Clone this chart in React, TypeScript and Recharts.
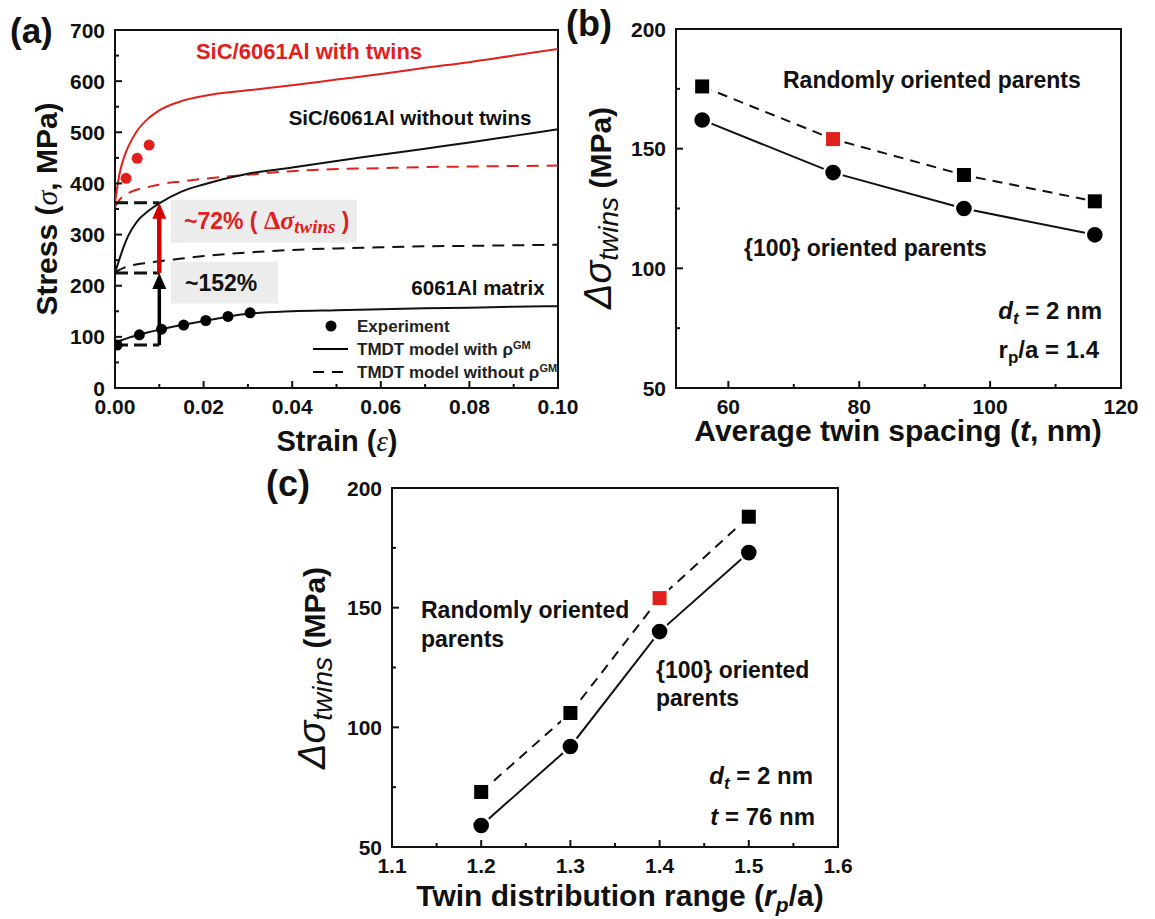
import React from 'react';
import { ComposedChart, Line, Scatter, XAxis, YAxis, ReferenceArea, ReferenceLine } from 'recharts';

const RED = '#e0201c';
const INK = '#111';
const FONT = 'Arial, "Liberation Sans", Helvetica, sans-serif';
const SERIF = '"Liberation Serif", "DejaVu Serif", serif';

// ---- (a) stress-strain curves (MPa vs strain) ----
const strainGrid = [0, 0.001, 0.002, 0.003, 0.005, 0.0075, 0.01, 0.015, 0.02, 0.03, 0.04, 0.05, 0.06, 0.07, 0.08, 0.09, 0.1];
const withTwinsGM = [362, 418, 450, 472, 503, 527, 543, 561, 571, 582, 592, 603, 614, 626, 637, 650, 663];
const withTwinsNoGM = [354, 368, 376, 381, 388, 393, 398, 404, 409, 417, 424, 428, 430, 432, 433, 434, 435];
const noTwinsGM = [225, 252, 277, 298, 326, 346, 361, 384, 398, 419, 431, 444, 456, 468, 480, 493, 506];
const noTwinsNoGM = [225, 231, 235, 238, 242, 245, 248, 253, 258, 265, 270, 273, 275, 277, 278, 279, 280];
const matrixGM = [89, 92, 95, 98, 103, 109, 114, 123, 131, 145, 150, 152, 154, 156, 157, 159, 160];

const matrixExpStrain = [0.0005, 0.0055, 0.0105, 0.0155, 0.0205, 0.0255, 0.0305];
const matrixExpStress = [84, 104, 115, 123, 132, 140, 147];
const twinsExpStrain = [0.0025, 0.005, 0.0077];
const twinsExpStress = [410, 449, 475];

// yield markers used by the arrows
const yieldStrain = 0.01;
const yieldWithTwins = 362;
const yieldNoTwins = 225;
const yieldMatrix = 84;

const strainTicks = [0, 0.01, 0.02, 0.03, 0.04, 0.05, 0.06, 0.07, 0.08, 0.09, 0.1];
const strainLabels = [0, 0.02, 0.04, 0.06, 0.08, 0.1];
const stressTicks = [0, 50, 100, 150, 200, 250, 300, 350, 400, 450, 500, 550, 600, 650, 700];
const stressLabels = [0, 100, 200, 300, 400, 500, 600, 700];

// ---- (b) twin spacing ----
const twinSpacing = [56, 76, 96, 116];
const randomB = [176, 154, 139, 128];
const oriented100B = [162, 140, 125, 114];
const highlightSpacing = 76;
const spacingTicks = [60, 70, 80, 90, 100, 110, 120];
const spacingLabels = [60, 80, 100, 120];

// ---- (c) twin distribution range ----
const rangeRatio = [1.2, 1.3, 1.4, 1.5];
const randomC = [73, 106, 154, 188];
const oriented100C = [59, 92, 140, 173];
const highlightRatio = 1.4;
const ratioTicks = [1.1, 1.15, 1.2, 1.25, 1.3, 1.35, 1.4, 1.45, 1.5, 1.55, 1.6];
const ratioLabels = [1.1, 1.2, 1.3, 1.4, 1.5, 1.6];

const deltaTicks = [50, 75, 100, 125, 150, 175, 200];
const deltaLabels = [50, 100, 150, 200];

const curveRows = strainGrid.map((s, i) => ({
  strain: s,
  withTwinsGM: withTwinsGM[i],
  withTwinsNoGM: withTwinsNoGM[i],
  noTwinsGM: noTwinsGM[i],
  noTwinsNoGM: noTwinsNoGM[i],
  matrixGM: matrixGM[i],
}));
const matrixExp = matrixExpStrain.map((s, i) => ({ strain: s, stress: matrixExpStress[i] }));
const twinsExp = twinsExpStrain.map((s, i) => ({ strain: s, stress: twinsExpStress[i] }));
const rowsB = twinSpacing.map((t, i) => ({ x: t, random: randomB[i], oriented: oriented100B[i] }));
const rowsC = rangeRatio.map((r, i) => ({ x: r, random: randomC[i], oriented: oriented100C[i] }));

const near = (a: number, b: number) => Math.abs(a - b) < 1e-9;

const bottomTick = (labels: number[], fmt: (v: number) => string) => (p: any) => {
  const v = p.payload.value;
  const major = labels.some((l) => near(l, v));
  return (
    <g>
      <line x1={p.x} y1={p.y} x2={p.x} y2={p.y - (major ? 7 : 4)} stroke={INK} strokeWidth={2} />
      {major && (
        <text x={p.x} y={p.y + 26} textAnchor="middle" fontFamily={FONT} fontWeight="bold" fontSize={21} fill={INK}>
          {fmt(v)}
        </text>
      )}
    </g>
  );
};

const leftTick = (labels: number[]) => (p: any) => {
  const v = p.payload.value;
  const major = labels.some((l) => near(l, v));
  return (
    <g>
      <line x1={p.x} y1={p.y} x2={p.x + (major ? 7 : 4)} y2={p.y} stroke={INK} strokeWidth={2} />
      {major && (
        <text x={p.x - 10} y={p.y + 7.5} textAnchor="end" fontFamily={FONT} fontWeight="bold" fontSize={21} fill={INK}>
          {v}
        </text>
      )}
    </g>
  );
};

const arrowShape = (color: string, w: number) => (p: any) => {
  const { x1, y1, x2, y2 } = p;
  const head = 16;
  return (
    <g>
      <line x1={x1} y1={y1} x2={x2} y2={y2 + head - 2} stroke={color} strokeWidth={w} />
      <polygon points={`${x2},${y2} ${x2 - 7},${y2 + head} ${x2 + 7},${y2 + head}`} fill={color} />
    </g>
  );
};

const squareDot = (highlight: number) => (p: any) => (
  <rect
    key={`sq-${p.index}`}
    x={p.cx - 8.2}
    y={p.cy - 8.2}
    width={16.4}
    height={16.4}
    fill={near(p.payload.x, highlight) ? RED : '#000'}
    stroke="#fff"
    strokeWidth={2.4}
  />
);

const circleDot = (p: any) => (
  <circle key={`ci-${p.index}`} cx={p.cx} cy={p.cy} r={9} fill="#000" stroke="#fff" strokeWidth={2.4} />
);

const expDot = (color: string) => (p: any) => <circle cx={p.cx} cy={p.cy} r={5.5} fill={color} />;

type NoteProps = { x: number; y: number; anchor?: 'start' | 'middle' | 'end'; size?: number; color?: string; children: React.ReactNode; weight?: string };
const Note = ({ x, y, anchor = 'start', size = 22, color = INK, weight = 'bold', children }: NoteProps) => {
  const tx = anchor === 'start' ? '0' : anchor === 'middle' ? '-50%' : '-100%';
  return (
    <div
      style={{
        position: 'absolute',
        left: x,
        top: y,
        transform: `translate(${tx}, -50%)`,
        fontFamily: FONT,
        fontWeight: weight as any,
        fontSize: size,
        color,
        lineHeight: 1,
        whiteSpace: 'nowrap',
      }}
    >
      {children}
    </div>
  );
};

const VTitle = ({ x, y, children }: { x: number; y: number; children: React.ReactNode }) => (
  <div
    style={{
      position: 'absolute',
      left: x,
      top: y,
      transform: 'translate(-50%, -50%) rotate(-90deg)',
      fontFamily: FONT,
      fontWeight: 'bold',
      fontSize: 30,
      color: INK,
      lineHeight: 1,
      whiteSpace: 'nowrap',
    }}
  >
    {children}
  </div>
);

const DeltaTitle = () => (
  <>
    <span style={{ fontStyle: 'italic', fontWeight: 'normal', fontSize: 38 }}>Δσ</span>
    <sub style={{ fontStyle: 'italic', fontWeight: 'normal', fontSize: 28, verticalAlign: '-0.25em' }}>twins</sub>
    <span> (MPa)</span>
  </>
);

export default function App() {
  return (
    <div style={{ position: 'absolute', left: 0, top: 0, width: 1155, height: 919, background: '#fff', overflow: 'hidden' }}>
      {/* (a) */}
      <div style={{ position: 'absolute', left: 0, top: 0 }}>
        <ComposedChart width={600} height={460} data={curveRows} margin={{ top: 30, right: 42, bottom: 42, left: 55 }}>
          <XAxis
            dataKey="strain"
            type="number"
            domain={[0, 0.1]}
            ticks={strainTicks}
            interval={0}
            axisLine={false}
            tickLine={false}
            tickSize={0}
            tickMargin={0}
            tick={bottomTick(strainLabels, (v) => v.toFixed(2))}
            allowDataOverflow
          />
          <YAxis
            dataKey="stress"
            type="number"
            domain={[0, 700]}
            ticks={stressTicks}
            interval={0}
            axisLine={false}
            tickLine={false}
            tickSize={0}
            tickMargin={0}
            tick={leftTick(stressLabels)}
            allowDataOverflow
          />
          <ReferenceArea x1={0.0126} x2={0.0546} y1={284} y2={368} fill="#ececec" fillOpacity={1} stroke="none" />
          <ReferenceArea x1={0.0126} x2={0.0368} y1={165} y2={247} fill="#ececec" fillOpacity={1} stroke="none" />
          <Line dataKey="withTwinsGM" type="monotone" stroke={RED} strokeWidth={2} dot={false} activeDot={false} isAnimationActive={false} />
          <Line dataKey="withTwinsNoGM" type="monotone" stroke={RED} strokeWidth={2} strokeDasharray="12 8" dot={false} activeDot={false} isAnimationActive={false} />
          <Line dataKey="noTwinsGM" type="monotone" stroke={INK} strokeWidth={2} dot={false} activeDot={false} isAnimationActive={false} />
          <Line dataKey="noTwinsNoGM" type="monotone" stroke={INK} strokeWidth={2} strokeDasharray="12 8" dot={false} activeDot={false} isAnimationActive={false} />
          <Line dataKey="matrixGM" type="monotone" stroke={INK} strokeWidth={2} dot={false} activeDot={false} isAnimationActive={false} />
          <Scatter data={matrixExp} shape={expDot('#000')} isAnimationActive={false} />
          <Scatter data={twinsExp} shape={expDot(RED)} isAnimationActive={false} />
          <ReferenceLine segment={[{ x: 0, y: yieldWithTwins }, { x: yieldStrain, y: yieldWithTwins }]} stroke={INK} strokeWidth={3} strokeDasharray="13 6" />
          <ReferenceLine segment={[{ x: 0, y: yieldNoTwins }, { x: yieldStrain, y: yieldNoTwins }]} stroke={INK} strokeWidth={3} strokeDasharray="13 6" />
          <ReferenceLine segment={[{ x: 0, y: yieldMatrix }, { x: yieldStrain, y: yieldMatrix }]} stroke={INK} strokeWidth={3} strokeDasharray="13 6" />
          <ReferenceLine segment={[{ x: yieldStrain, y: yieldNoTwins }, { x: yieldStrain, y: yieldWithTwins }]} shape={arrowShape('#d40000', 4.5)} />
          <ReferenceLine segment={[{ x: yieldStrain, y: yieldMatrix }, { x: yieldStrain, y: yieldNoTwins }]} shape={arrowShape('#000', 3.5)} />
          <ReferenceArea x1={0} x2={0.1} y1={0} y2={700} fill="none" stroke={INK} strokeWidth={2} />
        </ComposedChart>
      </div>

      {/* (b) */}
      <div style={{ position: 'absolute', left: 560, top: 0 }}>
        <ComposedChart width={595} height={460} data={rowsB} margin={{ top: 29, right: 34, bottom: 42, left: 56 }}>
          <XAxis dataKey="x" type="number" domain={[52, 120]} ticks={spacingTicks} interval={0} axisLine={false} tickLine={false} tickSize={0} tickMargin={0} tick={bottomTick(spacingLabels, (v) => String(v))} allowDataOverflow />
          <YAxis type="number" domain={[50, 200]} ticks={deltaTicks} interval={0} axisLine={false} tickLine={false} tickSize={0} tickMargin={0} tick={leftTick(deltaLabels)} allowDataOverflow />
          <Line dataKey="random" type="linear" stroke={INK} strokeWidth={2} strokeDasharray="10 7" dot={squareDot(highlightSpacing)} activeDot={false} isAnimationActive={false} />
          <Line dataKey="oriented" type="linear" stroke={INK} strokeWidth={2} dot={circleDot} activeDot={false} isAnimationActive={false} />
          <ReferenceArea x1={52} x2={120} y1={50} y2={200} fill="none" stroke={INK} strokeWidth={2} />
        </ComposedChart>
      </div>

      {/* (c) */}
      <div style={{ position: 'absolute', left: 260, top: 440 }}>
        <ComposedChart width={620} height={479} data={rowsC} margin={{ top: 48, right: 42, bottom: 42, left: 72 }}>
          <XAxis dataKey="x" type="number" domain={[1.1, 1.6]} ticks={ratioTicks} interval={0} axisLine={false} tickLine={false} tickSize={0} tickMargin={0} tick={bottomTick(ratioLabels, (v) => v.toFixed(1))} allowDataOverflow />
          <YAxis type="number" domain={[50, 200]} ticks={deltaTicks} interval={0} axisLine={false} tickLine={false} tickSize={0} tickMargin={0} tick={leftTick(deltaLabels)} allowDataOverflow />
          <Line dataKey="random" type="linear" stroke={INK} strokeWidth={2} strokeDasharray="10 7" dot={squareDot(highlightRatio)} activeDot={false} isAnimationActive={false} />
          <Line dataKey="oriented" type="linear" stroke={INK} strokeWidth={2} dot={circleDot} activeDot={false} isAnimationActive={false} />
          <ReferenceArea x1={1.1} x2={1.6} y1={50} y2={200} fill="none" stroke={INK} strokeWidth={2} />
        </ComposedChart>
      </div>

      {/* text overlay */}
      <div style={{ position: 'absolute', left: 0, top: 0, width: 1155, height: 919, pointerEvents: 'none' }}>
        {/* (a) */}
        <Note x={10} y={30} size={35}>(a)</Note>
        <VTitle x={47} y={209}>
          Stress (<span style={{ fontFamily: SERIF, fontStyle: 'italic', fontWeight: 'normal' }}>σ</span>, MPa)
        </VTitle>
        <Note x={337} y={441} anchor="middle" size={29}>
          Strain (<span style={{ fontFamily: SERIF, fontStyle: 'italic', fontWeight: 'normal' }}>ε</span>)
        </Note>
        <Note x={309} y={52} anchor="middle" size={22} color={RED}>SiC/6061Al with twins</Note>
        <Note x={410} y={118} anchor="middle" size={20.5}>SiC/6061Al without twins</Note>
        <Note x={478} y={288} anchor="middle" size={20.5}>6061Al matrix</Note>
        <Note x={184} y={222} size={23} color={RED}>
          ~72% ( <span style={{ fontFamily: SERIF, fontSize: 26 }}>Δ<i>σ</i></span>
          <sub style={{ fontFamily: SERIF, fontStyle: 'italic', fontSize: 19, verticalAlign: '-0.2em' }}>twins</sub> )
        </Note>
        <Note x={185} y={283} size={23}>~152%</Note>

        {/* legend (a) */}
        <svg style={{ position: 'absolute', left: 0, top: 0 }} width={575} height={460}>
          <circle cx={331} cy={326} r={5.5} fill="#000" />
          <line x1={313} y1={349} x2={348} y2={349} stroke="#000" strokeWidth={2} />
          <line x1={313} y1={372} x2={348} y2={372} stroke="#000" strokeWidth={2} strokeDasharray="11 8" />
        </svg>
        <Note x={357} y={326} size={17} color="#222">Experiment</Note>
        <Note x={357} y={349} size={17} color="#222">
          TMDT model with ρ<sup style={{ fontSize: 11 }}>GM</sup>
        </Note>
        <Note x={357} y={372} size={17} color="#222">
          TMDT model without ρ<sup style={{ fontSize: 11 }}>GM</sup>
        </Note>

        {/* (b) */}
        <Note x={566} y={24} size={36}>(b)</Note>
        <VTitle x={601} y={208}><DeltaTitle /></VTitle>
        <Note x={898} y={431} anchor="middle" size={30}>
          Average twin spacing (<i>t</i>, nm)
        </Note>
        <Note x={783} y={80} size={23}>Randomly oriented parents</Note>
        <Note x={744} y={248} size={23}>{'{100} oriented parents'}</Note>
        <Note x={1102} y={313} anchor="end" size={24}>
          <i>d</i><sub style={{ fontStyle: 'italic', fontSize: 17, verticalAlign: '-0.3em' }}>t</sub> = 2 nm
        </Note>
        <Note x={1099} y={352} anchor="end" size={24}>
          r<sub style={{ fontSize: 17, verticalAlign: '-0.3em' }}>p</sub>/a = 1.4
        </Note>

        {/* (c) */}
        <Note x={266} y={484} size={36}>(c)</Note>
        <VTitle x={315} y={668}><DeltaTitle /></VTitle>
        <Note x={620} y={898} anchor="middle" size={30}>
          Twin distribution range (<i>r</i>
          <sub style={{ fontStyle: 'italic', fontSize: 21, verticalAlign: '-0.3em' }}>p</sub>/a)
        </Note>
        <Note x={421} y={610} size={23}>Randomly oriented</Note>
        <Note x={421} y={639} size={23}>parents</Note>
        <Note x={656} y={670} size={23}>{'{100} oriented'}</Note>
        <Note x={656} y={698} size={23}>parents</Note>
        <Note x={813} y={778} anchor="end" size={24}>
          <i>d</i><sub style={{ fontStyle: 'italic', fontSize: 17, verticalAlign: '-0.3em' }}>t</sub> = 2 nm
        </Note>
        <Note x={815} y={817} anchor="end" size={24}>
          <i>t</i> = 76 nm
        </Note>
      </div>
    </div>
  );
}
